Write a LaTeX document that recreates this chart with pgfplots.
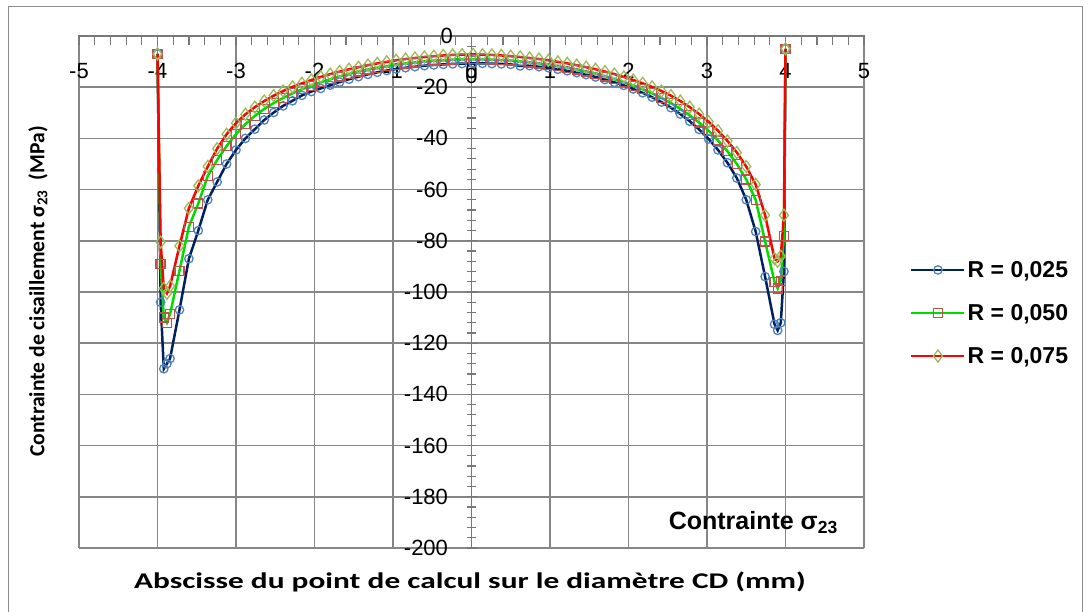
\documentclass[border=0pt]{standalone}
\usepackage{pgfplots}
\pgfplotsset{compat=1.18}
\usepackage{pgfplotstable}
\usepackage{fontspec}
\setmainfont{Liberation Sans}
\newfontfamily\calibri{Carlito}
\definecolor{navy}{RGB}{0,32,96}
\definecolor{markblue}{RGB}{79,129,189}
\definecolor{lgreen}{RGB}{0,220,0}
\definecolor{markred}{RGB}{192,80,77}
\definecolor{markolive}{RGB}{155,187,89}
\definecolor{gridgray}{RGB}{134,134,134}
\definecolor{axisgray}{RGB}{120,120,120}
\definecolor{framegray}{RGB}{140,140,140}

\pgfplotstableread{
x y
-4.00 -7
-3.96 -104
-3.92 -130
-3.88 -128
-3.84 -126
-3.72 -107
-3.60 -87
-3.48 -76
-3.36 -64
-3.24 -57
-3.12 -50
-3.00 -44.5
-2.88 -40
-2.76 -36.4
-2.64 -32.8
-2.52 -29.9
-2.40 -27.3
-2.28 -25.3
-2.16 -23.2
-2.04 -21.7
-1.92 -20.5
-1.80 -19.2
-1.68 -18
-1.56 -16.9
-1.44 -15.9
-1.32 -15
-1.20 -14.2
-1.08 -13.5
-0.96 -12.9
-0.84 -12.4
-0.72 -12
-0.60 -11.6
-0.48 -11.3
-0.36 -11.1
-0.24 -10.9
-0.12 -10.8
0.02 -10.7
0.14 -10.7
0.26 -10.8
0.38 -10.9
0.50 -11.1
0.62 -11.7
0.74 -11.6
0.86 -12
0.98 -12.4
1.10 -13
1.22 -13.6
1.34 -14.3
1.46 -15.1
1.58 -16
1.70 -17
1.82 -18.1
1.94 -19.3
2.06 -20.7
2.18 -22.2
2.30 -23.9
2.42 -25.8
2.54 -28
2.66 -30.5
2.78 -33.3
2.90 -36.5
3.02 -40.2
3.14 -44.5
3.26 -49.5
3.38 -55.5
3.50 -64
3.62 -76.4
3.74 -94
3.86 -112.6
3.90 -115
3.94 -112
3.98 -92
4.00 -5
}\dataA

\pgfplotstableread{
x y
-4.00 -7
-3.96 -89
-3.92 -110
-3.88 -112
-3.84 -108.6
-3.72 -91.7
-3.60 -74.5
-3.48 -65.4
-3.36 -54.7
-3.24 -48.4
-3.12 -43
-3.00 -38.4
-2.88 -34.4
-2.76 -31.2
-2.64 -28.5
-2.52 -26.2
-2.40 -24.2
-2.28 -22.4
-2.16 -20.8
-2.04 -19.4
-1.92 -18.1
-1.80 -16.9
-1.68 -15.8
-1.56 -14.8
-1.44 -13.9
-1.32 -13.1
-1.20 -12.4
-1.08 -11.8
-0.96 -11.2
-0.84 -10.7
-0.72 -10.3
-0.60 -9.9
-0.48 -9.6
-0.36 -9.4
-0.24 -9.2
-0.12 -9.1
0.02 -9.0
0.14 -9.1
0.26 -9.2
0.38 -9.4
0.50 -9.6
0.62 -9.9
0.74 -10.3
0.86 -10.7
0.98 -11.2
1.10 -11.8
1.22 -12.4
1.34 -13.1
1.46 -13.9
1.58 -14.8
1.70 -15.8
1.82 -16.9
1.94 -18.1
2.06 -19.4
2.18 -20.8
2.30 -22.4
2.42 -24.2
2.54 -26.2
2.66 -28.5
2.78 -31
2.90 -33.8
3.02 -37
3.14 -40.8
3.26 -45
3.38 -50
3.50 -56
3.62 -64
3.74 -80.3
3.86 -96
3.90 -98.6
3.94 -95.6
3.98 -78
4.00 -5
}\dataB

\pgfplotstableread{
x y
-4.00 -7
-3.96 -80.5
-3.92 -98.6
-3.88 -100.5
-3.84 -97.7
-3.72 -82
-3.60 -67.3
-3.48 -58.5
-3.36 -51
-3.24 -44
-3.12 -38.4
-3.00 -34
-2.88 -30.6
-2.76 -27.8
-2.64 -25.4
-2.52 -23.3
-2.40 -21.5
-2.28 -19.9
-2.16 -18.5
-2.04 -17.2
-1.92 -16
-1.80 -14.9
-1.68 -13.9
-1.56 -13
-1.44 -12.2
-1.32 -11.4
-1.20 -10.7
-1.08 -10.1
-0.96 -9.5
-0.84 -9
-0.72 -8.6
-0.60 -8.2
-0.48 -7.9
-0.36 -7.6
-0.24 -7.4
-0.12 -7.3
0.02 -7.2
0.14 -7.3
0.26 -7.4
0.38 -7.6
0.50 -7.9
0.62 -8.2
0.74 -8.6
0.86 -9
0.98 -9.5
1.10 -10.1
1.22 -10.7
1.34 -11.4
1.46 -12.2
1.58 -13
1.70 -13.9
1.82 -14.9
1.94 -16
2.06 -17.2
2.18 -18.5
2.30 -19.9
2.42 -21.5
2.54 -23.3
2.66 -25.4
2.78 -27.8
2.90 -30.5
3.02 -33.5
3.14 -37
3.26 -41
3.38 -45.5
3.50 -51
3.62 -58
3.74 -70
3.86 -87
3.90 -88
3.94 -86
3.98 -70
4.00 -5
}\dataC

\begin{document}
\begin{tikzpicture}
\path[use as bounding box] (0pt,0pt) rectangle (1090pt,612pt);
\draw[framegray, line width=1pt] (8.5pt,0pt) -- (8.5pt,605.5pt) -- (1082pt,605.5pt) -- (1082pt,0pt);
\begin{axis}[
  at={(79pt,64pt)}, anchor=south west,
  width=785pt, height=512pt, scale only axis,
  xmin=-5, xmax=5, ymin=-200, ymax=0,
  clip=false,
  axis x line=top, axis y line=middle,
  axis line style={-, draw=axisgray, line width=1.5pt},
  xtick={-5,-4,...,5}, ytick={-200,-180,...,0},
  minor x tick num=4, minor y tick num=4,
  grid=major, major grid style={draw=gridgray, line width=1.5pt},
  tick align=center, major tick length=10pt, minor tick length=9pt,
  tick style={draw=axisgray, line width=1.2pt},
  x tick style={yshift=-4.5pt},
  /pgf/number format/assume math mode=true,
  tick label style={font=\fontsize{22}{26}\selectfont},
  xticklabel style={anchor=center, yshift=-40pt},
  yticklabel style={anchor=east, xshift=-15pt},
  legend style={at={(1.0586,0.459)}, anchor=west, draw=none, fill=none,
    font=\bfseries\fontsize{23}{27}\selectfont, row sep=21.5pt, inner sep=0pt},
  legend cell align=left,
  legend image code/.code={\draw[mark repeat=2,mark phase=2,#1] plot coordinates {(0pt,0pt) (26.5pt,0pt) (53pt,0pt)};},
]
\addplot[color=navy, line width=2.5pt, mark=o, mark size=4.2pt, mark options={draw=markblue, line width=1.3pt, fill=none}] table {\dataA};
\addlegendentry{R = 0,025}
\addplot[color=lgreen, line width=2.5pt, mark=square, mark size=4.5pt, mark options={draw=markred, line width=1.3pt, fill=none}] table {\dataB};
\addlegendentry{R = 0,050}
\addplot[color=red, line width=2.5pt, mark=diamond, mark size=6pt, mark options={draw=markolive, line width=1.3pt, fill=none}] table {\dataC};
\addlegendentry{R = 0,075}
\node[font=\fontsize{22}{26}\selectfont, anchor=center, yshift=-40pt] at (axis cs:0,0) {0};
\node[font=\fontsize{22}{26}\selectfont, anchor=east, xshift=-15pt] at (axis cs:0,0) {0};
\end{axis}
\node[anchor=base east, inner sep=0pt, font=\bfseries\fontsize{25}{29}\selectfont] at (838pt,82pt) {Contrainte σ\textsubscript{23}};
\node[rotate=90, font=\calibri\bfseries\fontsize{21.6}{26}\selectfont] at (38pt,320.5pt) {Contrainte de cisaillement σ\textsubscript{23}\ \ (MPa)};
\node[xscale=1.4, font=\calibri\bfseries\fontsize{22.4}{26}\selectfont] at (470pt,30pt) {Abscisse du point de calcul sur le diamètre CD (mm)};
\end{tikzpicture}
\end{document}
